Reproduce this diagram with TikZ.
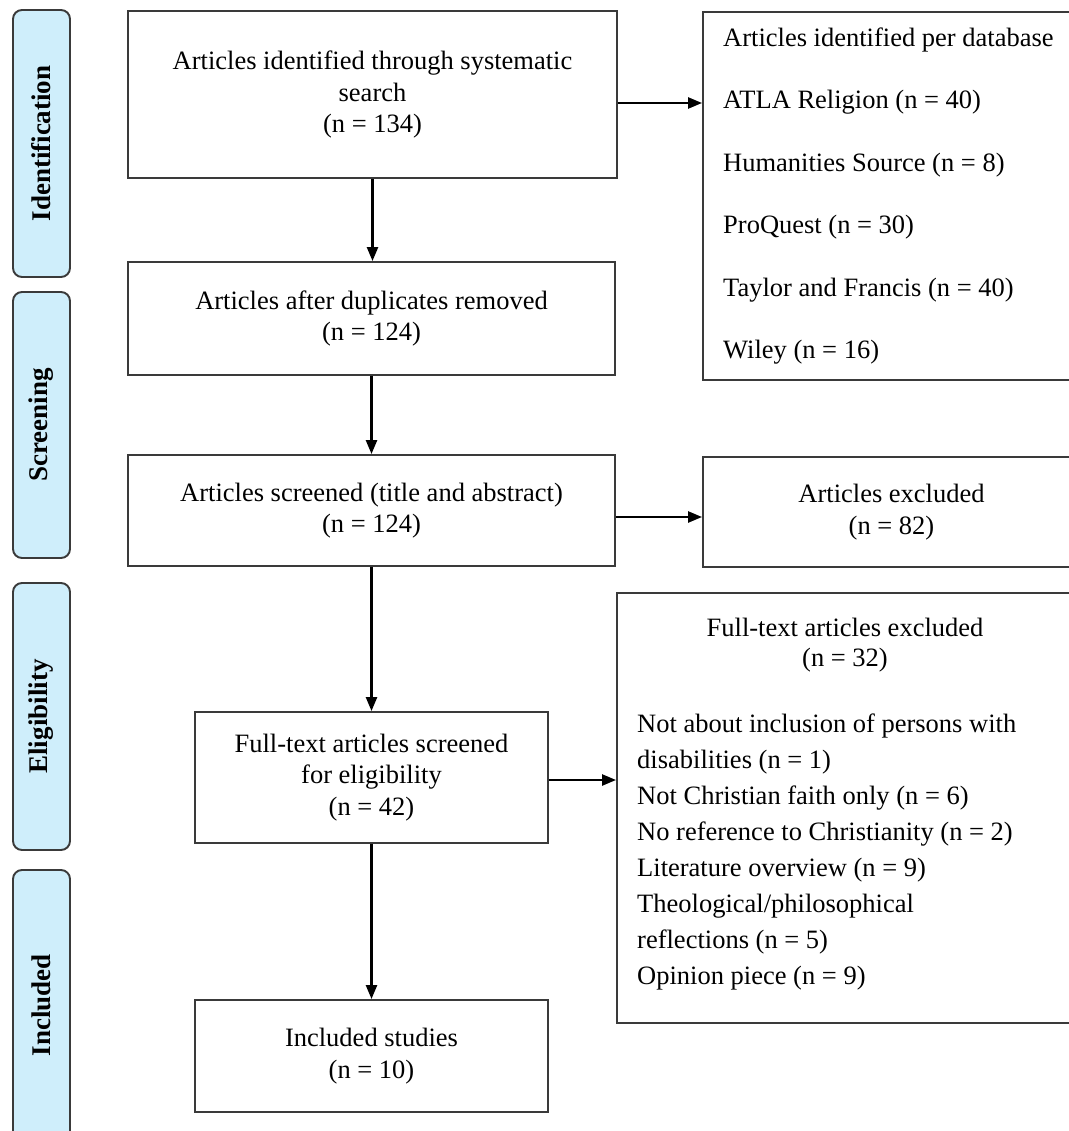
\documentclass[tikz,border=0pt]{standalone}
\usepackage{fontspec}
\setmainfont{Liberation Serif}
\usetikzlibrary{arrows.meta}
\definecolor{stagefill}{HTML}{CFEEFB}
\definecolor{edgecol}{HTML}{3A3A3A}
\newcommand\fmain{\fontsize{26.5}{31.5}\selectfont}
\newcommand\fdb{\fontsize{26.5}{62.4}\selectfont}
\newcommand\ftitle{\fontsize{26.5}{30}\selectfont}
\newcommand\flist{\fontsize{26.5}{36}\selectfont}
\newcommand\fstage{\fontsize{27}{30}\selectfont\bfseries}
\begin{document}
\begin{tikzpicture}[x=1pt,y=-1pt,
  box/.style={draw=edgecol,line width=1.9pt,rectangle,inner sep=0pt,align=center,font=\fmain},
  stage/.style={draw=edgecol,line width=1.9pt,fill=stagefill,rounded corners=9pt,
    minimum height=57pt,inner sep=0pt,rotate=90,font=\fstage},
  arr/.style={-{Triangle[length=14pt,width=11pt]},line width=2.4pt,black}]
\useasboundingbox[fill=white] (0,0) rectangle (1068,1131);

% stage labels
\node[stage,minimum width=267pt] (sid) at (41.5,143.5) {Identification};
\node[stage,minimum width=266pt] (ssc) at (41.5,425) {Screening};
\node[stage,minimum width=267pt] (sel) at (41.5,716.5) {Eligibility};
\node[stage,minimum width=270pt] (sin) at (41.5,1005) {Included};

% main column
\node[box,minimum width=489pt,minimum height=167pt] (b1) at (372.5,94.5)
  {Articles identified through systematic\\search\\(n = 134)};
\node[box,minimum width=487pt,minimum height=113pt] (b2) at (371.5,318.5)
  {Articles after duplicates removed\\(n = 124)};
\node[box,minimum width=487pt,minimum height=111pt] (b3) at (371.5,510.5)
  {Articles screened (title and abstract)\\(n = 124)};
\node[box,minimum width=353pt,minimum height=131pt] (b4) at (371.5,777.5)
  {Full-text articles screened\\for eligibility\\(n = 42)};
\node[box,minimum width=353pt,minimum height=112pt] (b5) at (371.5,1056)
  {Included studies\\(n = 10)};

% right column
\node[box,minimum width=400pt,minimum height=368pt] (r1) at (903,196) {};
\node[anchor=west,align=left,font=\fdb,inner sep=0pt] (r1l) at (723,196)
  {Articles identified per database\\ATLA Religion (n = 40)\\Humanities Source (n = 8)\\ProQuest (n = 30)\\Taylor and Francis (n = 40)\\Wiley (n = 16)};
\node[box,minimum width=377pt,minimum height=110pt] (r2) at (891.5,512)
  {Articles excluded\\(n = 82)};
\node[box,minimum width=456pt,minimum height=430pt] (r3) at (845,808) {};
\node[align=center,font=\ftitle,inner sep=0pt] (r3t) at (845,645)
  {Full-text articles excluded\\(n = 32)};
\node[anchor=north west,align=left,font=\flist,inner sep=0pt] (r3l) at (637,714)
  {Not about inclusion of persons with\\disabilities (n = 1)\\Not Christian faith only (n = 6)\\No reference to Christianity (n = 2)\\Literature overview (n = 9)\\Theological/philosophical\\reflections (n = 5)\\Opinion piece (n = 9)};

% connectors
\draw[arr] (b1.south) -- (b1.south |- b2.north);
\draw[arr] (b2.south) -- (b2.south |- b3.north);
\draw[arr] (b3.south) -- (b3.south |- b4.north);
\draw[arr] (b4.south) -- (b4.south |- b5.north);
\draw[arr] ([yshift=-8.5pt]b1.east) -- ([yshift=-8.5pt]b1.east -| r1.west);
\draw[arr] ([yshift=-6.5pt]b3.east) -- ([yshift=-6.5pt]b3.east -| r2.west);
\draw[arr] ([yshift=-2.5pt]b4.east) -- ([yshift=-2.5pt]b4.east -| r3.west);
\end{tikzpicture}
\end{document}
